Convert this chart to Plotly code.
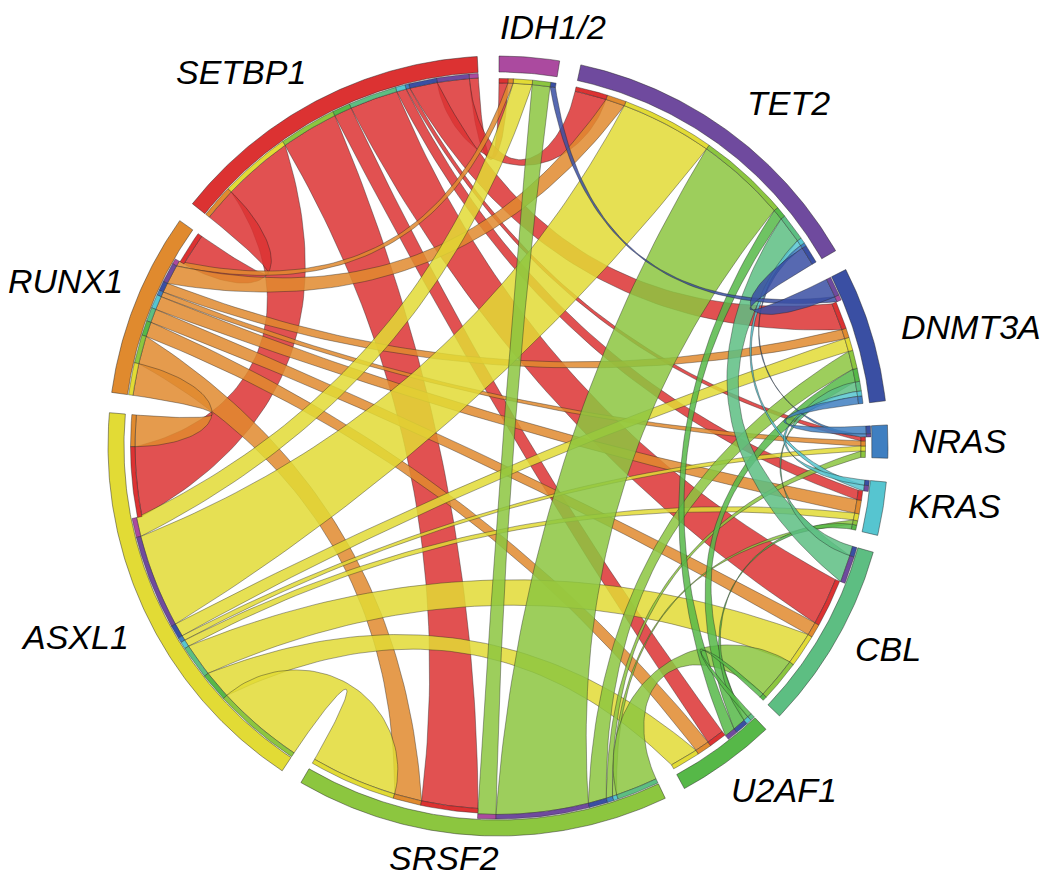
"""Gene co-mutation chord diagram: ribbon widths are co-mutation shares, in degrees of ring."""
from math import comb

import numpy as np
import plotly.graph_objects as go

# clockwise from the top
genes = ["IDH1/2", "TET2", "DNMT3A", "NRAS", "KRAS", "CBL", "U2AF1", "SRSF2", "ASXL1", "RUNX1", "SETBP1"]

# share of ring for each gene pair, each row lists the partners further round the ring
idh_links = [0, 0.85, 0, 0, 0, 0, 2.85, 3.0, 0.85, 1.4]
tet2_links = [3.0, 0.5, 0.9, 4.3, 1.7, 14.5, 14.7, 3.05, 5.05]
dnmt3a_links = [1.2, 0.8, 1.5, 2.05, 2.9, 2.1, 1.5, 4.35]
nras_links = [0, 0, 0, 1.0, 0.8, 0.8, 0.6]
kras_links = [0, 0.8, 0.7, 1.1, 2.15, 1.5]
cbl_links = [0.7, 6.6, 5.2, 2.15, 7.55]
u2af1_links = [0, 4.5, 2.3, 2.8]
srsf2_links = [13.8, 4.4, 9.0]
asxl1_links = [5.0, 11.1]
runx1_links = [5.2]

sector_start = [0.15, 12.26, 63.1, 86.9, 95.3, 105.8, 136.6, 154.6, 213.6, 277.9, 308.4]

colors = ["#AB4A9F", "#6F4A9E", "#3A4FA3", "#3F7FC1", "#56C5D0", "#5DBE82",
          "#56B848", "#8CC63F", "#E2DB35", "#E08A2E", "#DC3232"]

label_pos = [(553, 27), (788, 103), (971, 327), (959, 441), (954, 506), (888, 649),
             (784, 790), (444, 858), (75, 637), (65, 281), (241, 72)]

CX, CY = 498, 446
BAND_IN, BAND_OUT = 374, 390
OWN_IN, OWN_OUT = 368.5, 373
OTHER_IN, OTHER_OUT = 363, 367.5
EDGE = "rgba(30,30,30,0.65)"

rows = [idh_links, tet2_links, dnmt3a_links, nras_links, kras_links, cbl_links,
        u2af1_links, srsf2_links, asxl1_links, runx1_links]
n = len(genes)
flow = np.zeros((n, n))
for i, row in enumerate(rows):
    for k, v in enumerate(row):
        flow[i, i + 1 + k] = flow[i + 1 + k, i] = v


def rgba(hex_color, alpha):
    r, g, b = (int(hex_color[i:i + 2], 16) for i in (1, 3, 5))
    return f"rgba({r},{g},{b},{alpha})"


def polar(radius, deg):
    a = np.radians(deg)
    return CX + radius * np.sin(a), CY - radius * np.cos(a)


def arc(radius, a0, a1):
    return polar(radius, np.linspace(a0, a1, max(3, int(abs(a1 - a0) * 2) + 2)))


def bezier(pts, t):
    deg = len(pts) - 1
    w = [comb(deg, k) * t ** k * (1 - t) ** (deg - k) for k in range(deg + 1)]
    return sum(wi * p[0] for wi, p in zip(w, pts)), sum(wi * p[1] for wi, p in zip(w, pts))


def edge(r0, a0, r1, a1):
    """Long edges are plain quadratics; short ones get rounder, leaving the ring radially."""
    diff = (a1 - a0 + 180) % 360 - 180
    d = abs(diff)
    t = np.linspace(0, 1, 60)
    ctrl_r = r0 * np.interp(d, [0, 50, 55, 105, 131, 180], [0.45, 0.45, 0.43, 0.27, 0.1, 0])
    qx, qy = bezier([polar(r0, a0), polar(ctrl_r, a0 + diff / 2), polar(r1, a1)], t)
    weight = np.clip((50 - d) / 20, 0, 1)
    if weight == 0:
        return qx, qy
    mid_r = 0.66 * r0
    rx, ry = bezier([polar(r0, a0), polar((r0 + mid_r) / 2, a0), polar(mid_r, a0 + diff / 2),
                     polar((r1 + mid_r) / 2, a1), polar(r1, a1)], t)
    return weight * rx + (1 - weight) * qx, weight * ry + (1 - weight) * qy


def wedge(r0, r1, a0, a1):
    xo, yo = arc(r1, a0, a1)
    xi, yi = arc(r0, a1, a0)
    return np.r_[xo, xi, xo[0]], np.r_[yo, yi, yo[0]]


# each sector lays its partners out clockwise, starting from its counter-clockwise neighbour
ends = {}
for i in range(n):
    pos = sector_start[i]
    for step in range(1, n):
        j = (i - step) % n
        ends[i, j] = (pos, pos + flow[i, j])
        pos += flow[i, j]

fig = go.Figure()

# ribbons take the colour of the later gene, and that gene's end sits on the outer ring
for owner in range(n - 1, -1, -1):
    for other in range(n):
        if other >= owner or flow[owner, other] == 0:
            continue
        a0, a1 = ends[owner, other]
        b0, b1 = ends[other, owner]
        xa, ya = arc(OWN_IN, a0, a1)
        xb, yb = arc(OTHER_IN, b0, b1)
        x1, y1 = edge(OWN_IN, a1, OTHER_IN, b0)
        x2, y2 = edge(OTHER_IN, b1, OWN_IN, a0)
        fig.add_trace(go.Scatter(
            x=np.r_[xa, x1, xb, x2], y=np.r_[ya, y1, yb, y2],
            mode="lines", fill="toself", fillcolor=rgba(colors[owner], 0.85),
            line=dict(color=EDGE, width=0.6),
            name=f"{genes[owner]} / {genes[other]}", hoverinfo="name",
        ))

for i in range(n):
    for j in range(n):
        if flow[i, j] == 0:
            continue
        r0, r1 = (OWN_IN, OWN_OUT) if i > j else (OTHER_IN, OTHER_OUT)
        x, y = wedge(r0, r1, *ends[i, j])
        fig.add_trace(go.Scatter(x=x, y=y, mode="lines", fill="toself", fillcolor=colors[j],
                                 line=dict(color=EDGE, width=0.6), hoverinfo="skip"))
    x, y = wedge(BAND_IN, BAND_OUT, sector_start[i], sector_start[i] + flow[i].sum())
    fig.add_trace(go.Scatter(x=x, y=y, mode="lines", fill="toself", fillcolor=colors[i],
                             line=dict(color=EDGE, width=0.7), name=genes[i], hoverinfo="name"))

for gene, (lx, ly) in zip(genes, label_pos):
    fig.add_annotation(x=lx, y=ly, text=f"<i>{gene}</i>", showarrow=False,
                       font=dict(family="Liberation Sans", size=34, color="#000000"))

fig.update_layout(width=1050, height=888, margin=dict(l=0, r=0, t=0, b=0),
                  paper_bgcolor="white", plot_bgcolor="white", showlegend=False)
fig.update_xaxes(range=[0, 1050], visible=False)
fig.update_yaxes(range=[888, 0], visible=False)

fig.write_html("out.html", config={"displayModeBar": False},
               post_script="document.body.style.margin='0';")
